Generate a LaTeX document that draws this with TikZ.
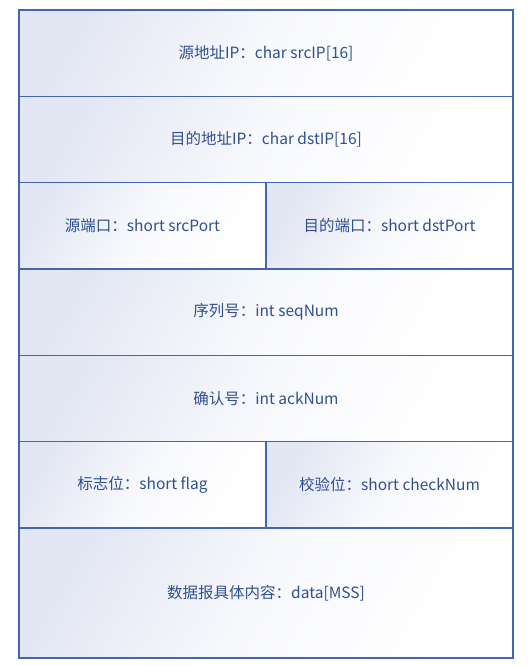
\documentclass[tikz,border=0pt]{standalone}
\usepackage{fontspec}
\setmainfont{Noto Sans CJK SC}
\usetikzlibrary{positioning}
\definecolor{Frame}{HTML}{4267AE}
\definecolor{Label}{HTML}{30508E}
\definecolor{Tint}{HTML}{E3E7F4}

\begin{document}
\begin{tikzpicture}[
    x=1pt, y=1pt,
    cell/.style={draw=Frame, line width=1.3pt, inner sep=0pt, outer sep=0pt,
      minimum width=494pt, minimum height=86.33pt, align=center,
      text=Label, font=\fontsize{15.5}{18}\selectfont,
      path picture={\shade[top color=Tint, bottom color=white,
          middle color=Tint!25!white, shading angle=60]
        (path picture bounding box.south west) rectangle (path picture bounding box.north east);}},
    half/.style={cell, minimum width=247pt}
]
\useasboundingbox (0,0) rectangle (527,-666);

% Header fields
\node[cell, anchor=north west] (srcip) at (19,-10) {源地址IP：char srcIP[16]};
\node[cell, below=0pt of srcip] (dstip) {目的地址IP：char dstIP[16]};

% Ports
\node[half, below right=0pt and 0pt of dstip.south west] (srcport) {源端口：short srcPort};
\node[half, right=0pt of srcport] (dstport) {目的端口：short dstPort};

% Sequence numbers
\node[cell, below right=0pt and 0pt of srcport.south west] (seq) {序列号：int seqNum};
\node[cell, below=0pt of seq] (ack) {确认号：int ackNum};

% Flag and checksum
\node[half, below right=0pt and 0pt of ack.south west] (flag) {标志位：short flag};
\node[half, right=0pt of flag] (check) {校验位：short checkNum};

% Payload
\node[cell, minimum height=130pt, below right=0pt and 0pt of flag.south west] (data) {数据报具体内容：data[MSS]};

\end{tikzpicture}
\end{document}
